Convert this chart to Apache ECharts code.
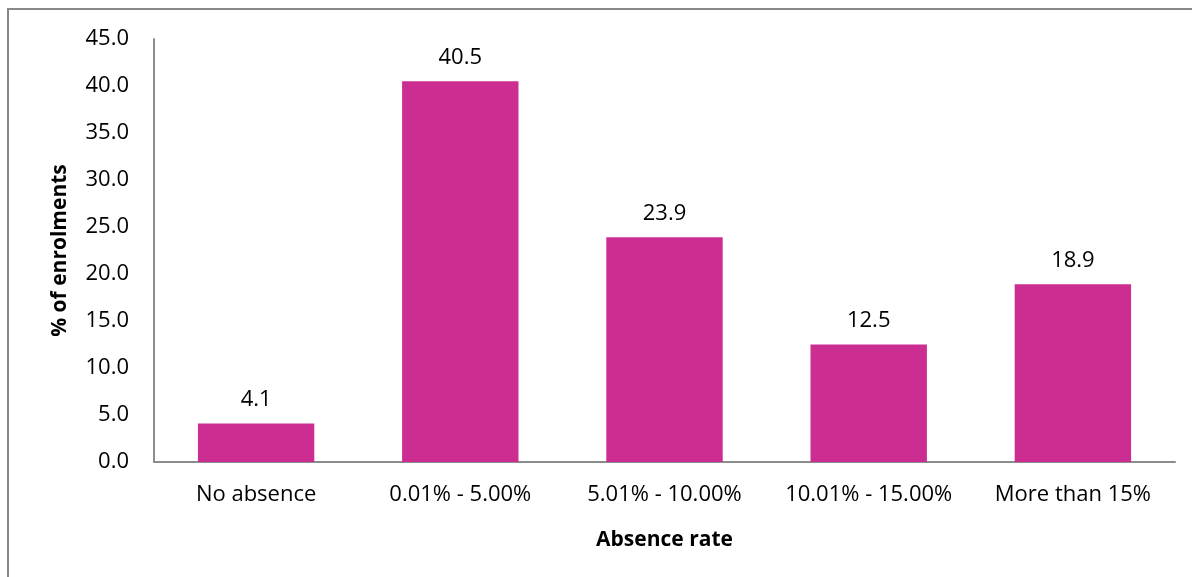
<!DOCTYPE html>
<html>
<head>
<meta charset="utf-8">
<script src="https://cdn.jsdelivr.net/npm/echarts@6/dist/echarts.min.js"></script>
<style>
  html, body { margin: 0; padding: 0; background: #fff; }
  #chart { width: 1192px; height: 577px; }
</style>
</head>
<body>
<div id="chart"></div>
<script>
// Share of enrolments by absence-rate band
const categories = ['No absence', '0.01% - 5.00%', '5.01% - 10.00%', '10.01% - 15.00%', 'More than 15%'];
const enrolmentShare = [4.1, 40.5, 23.9, 12.5, 18.9];
const yTicks = { min: 0, max: 45, interval: 5 };

const FONT = '"Open Sans", Carlito, sans-serif';
const chart = echarts.init(document.getElementById('chart'));

chart.setOption({
  backgroundColor: '#ffffff',
  animation: false,
  graphic: [{
    type: 'rect',
    shape: { x: 8, y: 9, width: 1300, height: 700 },
    style: { fill: 'none', stroke: '#888888', lineWidth: 2 },
    silent: true
  }],
  grid: { left: 154, right: 17, top: 39, bottom: 115, containLabel: false },
  xAxis: {
    type: 'category',
    data: categories,
    name: 'Absence rate',
    nameLocation: 'middle',
    nameGap: 68,
    nameTextStyle: { fontFamily: FONT, fontSize: 21, fontWeight: 'bold', color: '#000' },
    axisLine: { lineStyle: { color: '#8c8c8c', width: 2 } },
    axisTick: { show: false },
    axisLabel: { interval: 0, fontFamily: FONT, fontSize: 22, color: '#000', margin: 22 }
  },
  yAxis: {
    type: 'value',
    min: yTicks.min,
    max: yTicks.max,
    interval: yTicks.interval,
    name: '% of enrolments',
    nameLocation: 'middle',
    nameGap: 83,
    nameRotate: 90,
    nameTextStyle: { fontFamily: FONT, fontSize: 21, fontWeight: 'bold', color: '#000' },
    axisLine: { show: true, lineStyle: { color: '#8c8c8c', width: 2 } },
    axisTick: { show: false },
    splitLine: { show: false },
    axisLabel: {
      fontFamily: FONT, fontSize: 22, color: '#000', margin: 25,
      formatter: v => v.toFixed(1)
    }
  },
  series: [{
    type: 'bar',
    data: enrolmentShare,
    barWidth: '57%',
    itemStyle: { color: '#CC2D90' },
    label: {
      show: true,
      position: 'top',
      distance: 13,
      fontFamily: FONT,
      fontSize: 22,
      color: '#000',
      formatter: p => p.value.toFixed(1)
    }
  }]
});
</script>
</body>
</html>
